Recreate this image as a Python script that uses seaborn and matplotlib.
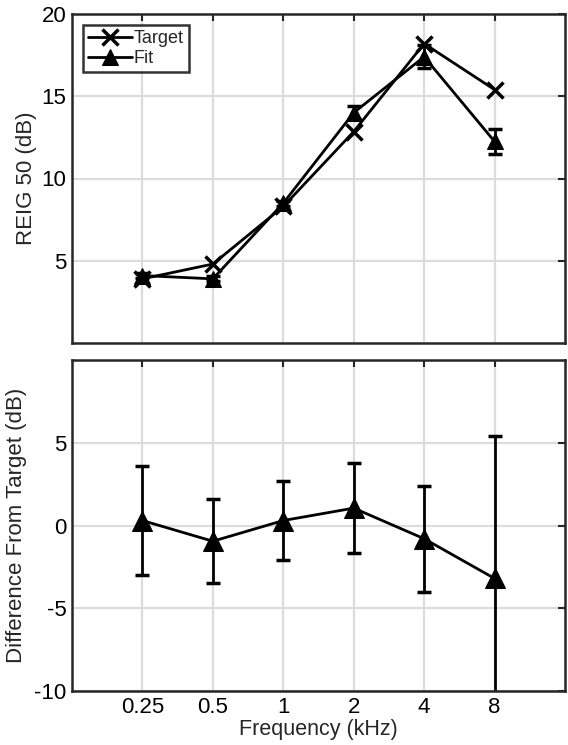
import matplotlib
matplotlib.use("Agg")
import matplotlib.pyplot as plt
import seaborn as sns
import pandas as pd
import numpy as np

# data
freqs = [0.25, 0.5, 1, 2, 4, 8]
freq_labels = ["0.25", "0.5", "1", "2", "4", "8"]
target = [3.9, 4.8, 8.3, 12.85, 18.2, 15.4]
fit = [4.1, 3.9, 8.5, 14.0, 17.4, 12.25]
fit_err = [0.15, 0.15, 0.15, 0.4, 0.7, 0.75]
diff = [0.3, -0.95, 0.3, 1.05, -0.8, -3.2]
diff_err = [3.3, 2.55, 2.4, 2.7, 3.2, 8.6]

df_top = pd.DataFrame({"freq": freqs * 2,
                       "val": target + fit,
                       "kind": ["Target"] * 6 + ["Fit"] * 6})
df_bot = pd.DataFrame({"freq": freqs, "diff": diff})

sns.set_style("white")
plt.rcParams['font.family'] = ['Liberation Sans', 'DejaVu Sans']
plt.rcParams['axes.unicode_minus'] = False

W, H = 568, 745
fig = plt.figure(figsize=(W / 100, H / 100), dpi=100)
ax1 = fig.add_axes([72 / W, (H - 343) / H, 493 / W, 329 / H])
ax2 = fig.add_axes([72 / W, (H - 691) / H, 493 / W, 331 / H])

grid_c = '#dcdcdc'
for ax in (ax1, ax2):
    ax.set_xscale('log', base=2)
    ax.set_xlim(0.125, 16)
    ax.grid(True, color=grid_c, linewidth=1.6)
    ax.set_axisbelow(True)
    for s in ax.spines.values():
        s.set_color('#262626')
        s.set_linewidth(1.8)
    ax.tick_params(direction='in', length=5, width=1.5, top=True, right=True,
                   labelsize=16, colors='#262626', labelcolor='black', pad=4)
    ax.set_xticks(freqs)
    ax.minorticks_off()

# top panel
sns.lineplot(data=df_top[df_top.kind == "Target"], x="freq", y="val", ax=ax1,
             color='black', linewidth=2, marker='x', markersize=11,
             markeredgewidth=2.5, markeredgecolor='black', label="Target", sort=False)
sns.lineplot(data=df_top[df_top.kind == "Fit"], x="freq", y="val", ax=ax1,
             color='black', linewidth=2, marker='^', markersize=12,
             markeredgecolor='black', label="Fit", sort=False)
ax1.errorbar(freqs, fit, yerr=fit_err, fmt='none', ecolor='black',
             elinewidth=2, capsize=5, capthick=2.5)
ax1.set_ylim(0, 20)
ax1.set_yticks([5, 10, 15, 20])
ax1.set_xticklabels([])
ax1.set_xlabel("")
ax1.set_ylabel("REIG 50 (dB)", fontsize=16, labelpad=3)
leg = ax1.legend(loc='upper left', fontsize=13, frameon=True, fancybox=False,
                 handlelength=2.4, handletextpad=0.1, borderpad=0.3,
                 labelspacing=0.15, borderaxespad=0.6)
leg.get_frame().set_edgecolor('black')
leg.get_frame().set_linewidth(1.8)

# bottom panel
sns.lineplot(data=df_bot, x="freq", y="diff", ax=ax2, color='black',
             linewidth=2, marker='^', markersize=14, markeredgecolor='black',
             sort=False)
ax2.errorbar(freqs, diff, yerr=diff_err, fmt='none', ecolor='black',
             elinewidth=2, capsize=5, capthick=2.5)
ax2.set_ylim(-10, 10)
ax2.set_yticks([-10, -5, 0, 5])
ax2.set_xticklabels(freq_labels)
ax2.set_xlabel("Frequency (kHz)", fontsize=15.5, labelpad=1)
ax2.set_ylabel("Difference From Target (dB)", fontsize=16, labelpad=5)

fig.savefig("out.png", dpi=100)
